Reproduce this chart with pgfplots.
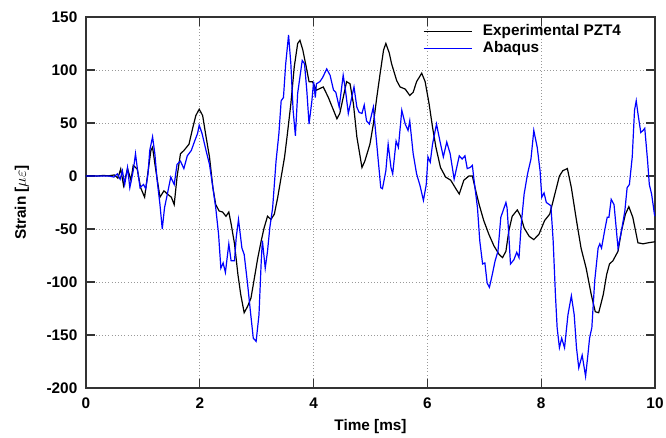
\documentclass[border=0pt]{standalone}
\usepackage{fontspec}
\setmainfont{Liberation Sans}
\usepackage{pgfplots}
\pgfplotsset{compat=1.18}

\begin{document}
\begin{tikzpicture}[x=1pt,y=1pt,font=\fontsize{11.5}{14}\selectfont\bfseries]
\useasboundingbox (-64.5pt,-37.5pt) rectangle (435pt,291pt);
\begin{axis}[
  scale only axis,
  width=426.75pt, height=278.25pt,
  xmin=0, xmax=10, ymin=-200, ymax=150,
  xtick={0,2,4,6,8,10},
  ytick={-200,-150,-100,-50,0,50,100,150},
  /pgf/number format/assume math mode=true,
  xticklabel style={yshift=-3.7pt},
  yticklabel style={xshift=-3pt},
  xlabel={Time [ms]},
  ylabel={Strain [$\mu\varepsilon$]},
  x label style={at={(axis description cs:0.5,-0.105)}, anchor=center},
  y label style={at={(axis description cs:-0.1125,0.5)}, anchor=center},
  grid=major,
  grid style={dotted, gray!80, line width=0.6pt},
  axis line style={line width=1.2pt, black!80},
  tick style={line width=0.8pt, black!80},
  major tick length=7pt,
  legend cell align=left,
  legend style={draw=none, fill=none, at={(rel axis cs:0.592,0.981)}, anchor=north west,
    inner sep=0pt, row sep=1.5pt, column sep=8pt,
    nodes={text height=8.5pt, text depth=2.5pt, inner sep=0pt}},
  legend image code/.code={\draw[#1] (0pt,0pt) -- (36pt,0pt);},
]
\addplot[black, line width=0.9pt] coordinates {
(0,0) (0.1,0.3) (0.2,0) (0.3,0.5) (0.4,0.2) (0.5,1) (0.56,-2) (0.61,6.6) (0.66,-9) (0.73,7) (0.79,-4) (0.83,10) (0.90,6.6) (0.96,-11) (1.03,-20) (1.07,-4) (1.14,24) (1.17,27) (1.22,8) (1.30,-20) (1.37,-14) (1.43,-17) (1.50,-20) (1.55,-27) (1.60,-1) (1.66,21) (1.72,24) (1.81,30) (1.87,44) (1.93,57) (1.99,63) (2.05,57) (2.11,37) (2.17,18) (2.23,-11) (2.28,-27) (2.34,-33) (2.40,-34) (2.46,-38) (2.51,-34) (2.55,-45) (2.61,-64) (2.67,-93) (2.72,-112) (2.78,-129) (2.84,-123) (2.90,-115) (2.96,-96) (3.02,-77) (3.08,-61) (3.13,-49) (3.19,-38) (3.25,-41) (3.31,-36) (3.37,-20) (3.43,-1) (3.49,18) (3.54,40) (3.60,68) (3.66,103) (3.72,125) (3.76,128) (3.81,119) (3.87,103) (3.92,89) (3.98,89) (4.05,81) (4.17,84) (4.26,74) (4.35,62) (4.41,54) (4.46,59) (4.52,74) (4.58,89) (4.64,87) (4.70,68) (4.76,37) (4.85,8) (4.90,14) (4.99,30) (5.05,49) (5.11,74) (5.17,97) (5.23,119) (5.27,125) (5.33,116) (5.37,106) (5.46,90) (5.52,84) (5.61,82) (5.69,76) (5.75,79) (5.81,89) (5.90,97) (5.96,89) (6.03,68) (6.09,46) (6.15,27) (6.23,8) (6.32,-1) (6.41,-4) (6.50,-12) (6.56,-17) (6.64,-4) (6.73,0) (6.79,0) (6.85,-14) (6.91,-27) (6.99,-42) (7.08,-55) (7.17,-66) (7.26,-74) (7.32,-77) (7.38,-71) (7.43,-52) (7.49,-38) (7.58,-32) (7.64,-38) (7.70,-49) (7.79,-57) (7.87,-60) (7.96,-55) (8.06,-42) (8.15,-36) (8.24,-17) (8.32,0) (8.38,5) (8.46,7) (8.53,-11) (8.62,-42) (8.70,-68) (8.79,-87) (8.88,-112) (8.95,-128) (9.01,-129) (9.09,-112) (9.15,-93) (9.20,-83) (9.26,-80) (9.35,-71) (9.41,-52) (9.48,-36) (9.54,-29) (9.61,-39) (9.70,-63) (9.79,-64) (9.88,-63) (10,-62)
};
\addlegendentry{Experimental PZT4}
\addplot[blue, line width=0.9pt] coordinates {
(0,0) (0.1,0) (0.2,0) (0.3,0) (0.4,0) (0.49,-1) (0.55,2) (0.60,-3) (0.64,5) (0.68,-8) (0.73,8) (0.77,-11) (0.83,5) (0.87,21) (0.90,8) (0.95,-11) (1.01,-8) (1.05,-12) (1.09,2) (1.12,24) (1.17,37) (1.21,21) (1.25,-4) (1.30,-27) (1.34,-50) (1.38,-30) (1.43,-17) (1.49,-1) (1.55,-8) (1.60,11) (1.66,14) (1.72,7) (1.78,19) (1.85,24) (1.91,33) (1.96,40) (1.99,48) (2.04,40) (2.11,24) (2.17,11) (2.23,-11) (2.28,-30) (2.33,-55) (2.37,-87) (2.41,-82) (2.45,-91) (2.51,-64) (2.55,-80) (2.61,-80) (2.64,-58) (2.68,-41) (2.74,-68) (2.78,-74) (2.84,-102) (2.89,-128) (2.94,-153) (2.99,-156) (3.04,-131) (3.08,-80) (3.10,-61) (3.15,-87) (3.19,-71) (3.23,-49) (3.28,-30) (3.34,14) (3.39,40) (3.43,71) (3.47,74) (3.51,106) (3.56,133) (3.60,106) (3.64,62) (3.68,38) (3.72,78) (3.80,109) (3.84,106) (3.88,81) (3.92,49) (3.97,71) (4.00,89) (4.03,74) (4.05,87) (4.11,89) (4.16,93) (4.23,101) (4.29,95) (4.35,81) (4.39,79) (4.45,65) (4.52,95) (4.56,81) (4.61,59) (4.67,74) (4.71,84) (4.76,65) (4.80,60) (4.85,59) (4.89,67) (4.93,52) (4.98,49) (5.05,65) (5.11,30) (5.18,-11) (5.21,-12) (5.27,5) (5.31,30) (5.36,8) (5.39,2) (5.45,33) (5.49,27) (5.55,62) (5.61,49) (5.66,43) (5.69,52) (5.75,21) (5.81,2) (5.87,-9) (5.93,-23) (5.98,-8) (6.01,18) (6.05,13) (6.09,30) (6.16,49) (6.22,33) (6.28,18) (6.34,32) (6.40,21) (6.47,-3) (6.56,19) (6.61,16) (6.66,19) (6.70,7) (6.75,8) (6.79,10) (6.82,-4) (6.88,-30) (6.92,-61) (6.97,-83) (7.01,-82) (7.05,-101) (7.09,-105) (7.14,-93) (7.19,-80) (7.24,-71) (7.29,-39) (7.38,-25) (7.40,-30) (7.43,-55) (7.46,-83) (7.52,-79) (7.57,-72) (7.61,-77) (7.65,-45) (7.70,-17) (7.76,2) (7.82,16) (7.87,43) (7.93,27) (7.98,5) (8.01,-20) (8.05,-16) (8.09,-25) (8.17,-28) (8.21,-61) (8.25,-112) (8.28,-143) (8.32,-162) (8.36,-153) (8.41,-162) (8.47,-131) (8.53,-113) (8.58,-131) (8.62,-162) (8.66,-181) (8.72,-169) (8.78,-189) (8.82,-169) (8.85,-153) (8.89,-143) (8.94,-99) (9.00,-68) (9.03,-64) (9.06,-68) (9.12,-50) (9.16,-39) (9.19,-39) (9.23,-22) (9.28,-27) (9.35,-68) (9.41,-52) (9.47,-33) (9.51,-11) (9.55,-8) (9.60,18) (9.64,62) (9.67,71) (9.70,59) (9.75,41) (9.79,43) (9.82,45) (9.87,14) (9.90,-8) (9.94,-17) (9.99,-36) (10,-38)
};
\addlegendentry{Abaqus}
\end{axis}
\end{tikzpicture}
\end{document}
